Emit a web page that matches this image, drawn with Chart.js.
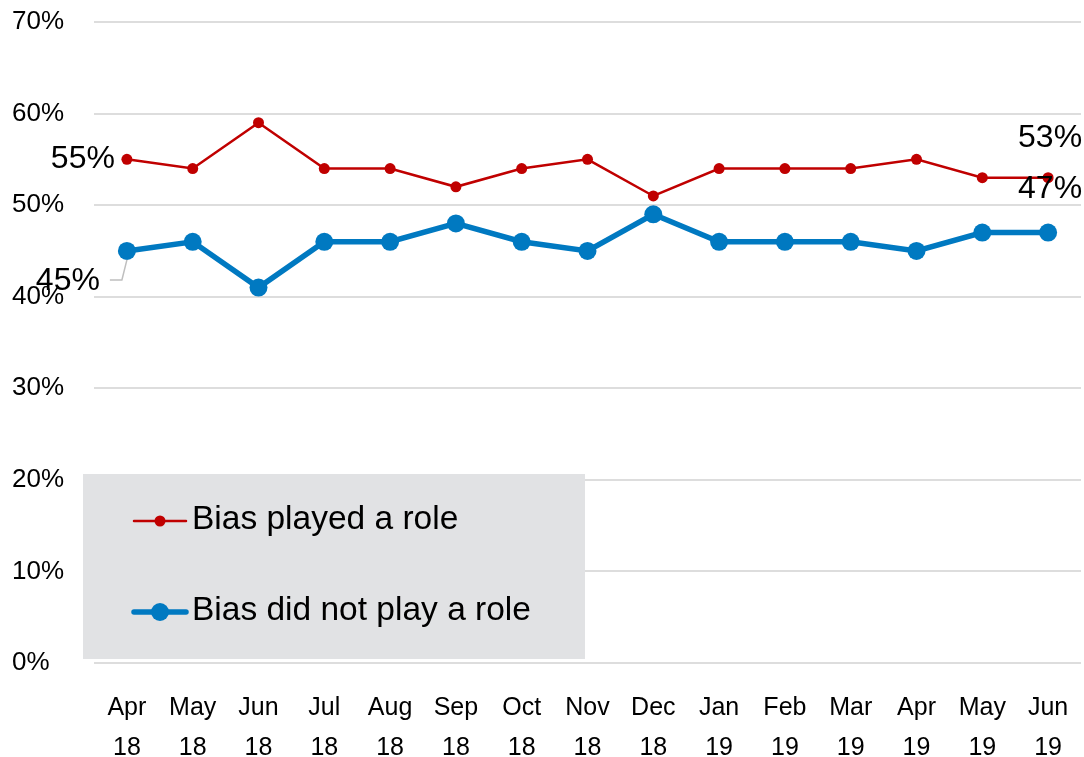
<!DOCTYPE html>
<html>
<head>
<meta charset="utf-8">
<script src="https://cdn.jsdelivr.net/npm/chart.js@4"></script>
<style>
  html, body { margin: 0; padding: 0; background: #fff; overflow: hidden; }
  #wrap { width: 1090px; height: 757px; position: relative; }
</style>
</head>
<body>
<div id="wrap"><canvas id="grafico_linha"></canvas></div>
<script>
const meses = ['Apr','May','Jun','Jul','Aug','Sep','Oct','Nov','Dec','Jan','Feb','Mar','Apr','May','Jun']
const anos = ['18','18','18','18','18','18','18','18','18','19','19','19','19','19','19']
const playedRole = [55,54,59,54,54,52,54,55,51,54,54,54,55,53,53]
const notRole = [45,46,41,46,46,48,46,45,49,46,46,46,45,47,47]
const nomes = ['Bias played a role','Bias did not play a role']
const yMin = 0, yMax = 70, yStep = 10

const labels = meses.map((m, i) => [m, anos[i]])

Chart.defaults.font.family = '"Liberation Sans", Arial, sans-serif'
Chart.defaults.color = '#000'

// rotulos de dados (primeiro e ultimo ponto)
const rotulos = {
    id: 'rotulos',
    afterDatasetsDraw(chart) {
        const ctx = chart.ctx
        const red = chart.getDatasetMeta(0).data
        const blue = chart.getDatasetMeta(1).data
        const d0 = chart.data.datasets[0].data
        const d1 = chart.data.datasets[1].data
        const n = d0.length - 1
        ctx.save()
        ctx.font = '32px "Liberation Sans", Arial, sans-serif'
        ctx.fillStyle = '#000'
        ctx.textBaseline = 'middle'

        ctx.textAlign = 'right'
        ctx.fillText(d0[0] + '%', red[0].x - 12, red[0].y)

        // linha guia do 45%
        ctx.strokeStyle = '#BFBFBF'
        ctx.lineWidth = 1.5
        ctx.beginPath()
        ctx.moveTo(blue[0].x, blue[0].y + 9)
        ctx.lineTo(blue[0].x - 5, blue[0].y + 29)
        ctx.lineTo(blue[0].x - 17, blue[0].y + 29)
        ctx.stroke()
        ctx.fillText(d1[0] + '%', blue[0].x - 27, blue[0].y + 30)

        ctx.textAlign = 'center'
        ctx.fillText(d0[n] + '%', red[n].x + 2, red[n].y - 39)
        ctx.fillText(d1[n] + '%', blue[n].x + 2, blue[n].y - 43)
        ctx.restore()
    }
}

// legenda em caixa cinza
const legenda = {
    id: 'legenda',
    afterDraw(chart) {
        const ctx = chart.ctx
        ctx.save()
        ctx.fillStyle = '#E1E2E4'
        ctx.fillRect(83, 474, 502, 185)
        const linhas = [521, 612]
        chart.data.datasets.forEach((ds, i) => {
            const y = linhas[i]
            ctx.strokeStyle = ds.borderColor
            ctx.lineWidth = ds.borderWidth
            ctx.lineCap = 'round'
            ctx.beginPath()
            ctx.moveTo(134, y)
            ctx.lineTo(186, y)
            ctx.stroke()
            ctx.fillStyle = ds.borderColor
            ctx.beginPath()
            ctx.arc(160, y, ds.pointRadius, 0, Math.PI * 2)
            ctx.fill()
            ctx.fillStyle = '#000'
            ctx.font = '33.5px "Liberation Sans", Arial, sans-serif'
            ctx.textAlign = 'left'
            ctx.textBaseline = 'middle'
            ctx.fillText(ds.label, 192, y - 1)
        })
        ctx.restore()
    }
}

const ctx = document.getElementById('grafico_linha')

const data = {
    labels,
    datasets: [{
        label: nomes[0],
        data: playedRole,
        borderColor: '#C00000',
        backgroundColor: '#C00000',
        borderWidth: 2.5,
        pointRadius: 5.5,
        pointBackgroundColor: '#C00000',
        pointBorderWidth: 0,
        tension: 0
    }, {
        label: nomes[1],
        data: notRole,
        borderColor: '#0079C1',
        backgroundColor: '#0079C1',
        borderWidth: 5.5,
        pointRadius: 9,
        pointBackgroundColor: '#0079C1',
        pointBorderWidth: 0,
        tension: 0
    }]
}

const config = {
    type: 'line',
    data,
    plugins: [rotulos, legenda],
    options: {
        responsive: true,
        maintainAspectRatio: false,
        animation: false,
        layout: { padding: { top: 22, left: 12, right: 0, bottom: 0 } },
        plugins: {
            legend: { display: false },
            tooltip: { enabled: false }
        },
        scales: {
            x: {
                offset: true,
                grid: { display: false, offset: true },
                border: { display: false },
                ticks: {
                    maxRotation: 0,
                    autoSkip: false,
                    padding: 17,
                    font: { size: 25, lineHeight: 1.6 }
                },
                afterFit(scale) {
                    scale.height = 94
                    scale.paddingLeft = 0
                    scale.paddingRight = 0
                }
            },
            y: {
                min: yMin,
                max: yMax,
                grid: { color: '#DDDDDD', lineWidth: 2, drawTicks: false },
                border: { display: false },
                ticks: {
                    stepSize: yStep,
                    crossAlign: 'far',
                    padding: 0,
                    font: { size: 26 },
                    callback: v => v + '%'
                },
                afterFit(scale) { scale.width = 82 }
            }
        }
    }
}

const graph = new Chart(ctx, config)
</script>
</body>
</html>
